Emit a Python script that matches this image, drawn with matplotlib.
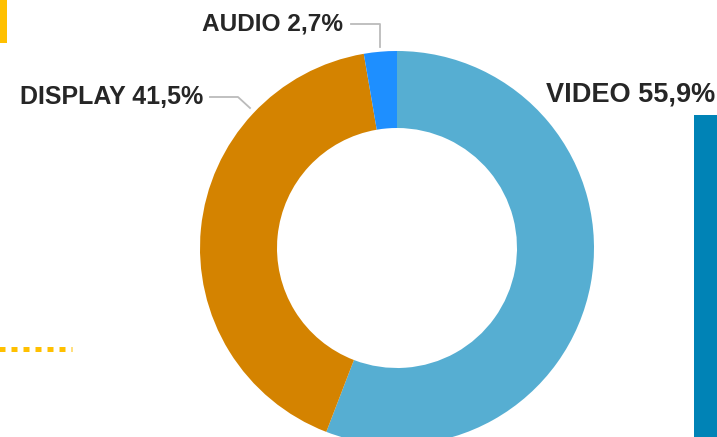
import matplotlib
matplotlib.use("Agg")
import matplotlib.pyplot as plt
from matplotlib.patches import Rectangle
from matplotlib.lines import Line2D

categories = ["VIDEO", "DISPLAY", "AUDIO"]
values = [55.9, 41.5, 2.7]
colors = ["#56AED2", "#D48300", "#1E8FFF"]
labels = ["VIDEO 55,9%", "DISPLAY 41,5%", "AUDIO 2,7%"]

W, H = 717, 437
fig = plt.figure(figsize=(W / 100, H / 100), dpi=100)
ax = fig.add_axes([0, 0, 1, 1])
ax.set_xlim(0, W)
ax.set_ylim(0, H)
ax.set_aspect("equal")
ax.axis("off")

cx, cy, r = 397, H - 248, 197
wedges, _ = ax.pie(values, colors=colors, startangle=90, counterclock=False,
                   center=(cx, cy), radius=r, frame=True,
                   wedgeprops=dict(width=77, linewidth=0))
ax.set_xlim(0, W)
ax.set_ylim(0, H)
ax.axis("off")

tcolor = "#262626"
font = dict(fontweight="bold", color=tcolor, family="Liberation Sans", va="center")

# VIDEO label
ax.text(546, H - 94.5, labels[0], ha="left", fontsize=19.5, **font)
# DISPLAY label + leader
ax.text(203, H - 97, labels[1], ha="right", fontsize=18, **font)
ax.add_line(Line2D([210, 238, 250], [H - 97, H - 97, H - 108], color="#BBBBBB", lw=1.3))
# AUDIO label + leader
ax.text(343, H - 24, labels[2], ha="right", fontsize=17.6, **font)
ax.add_line(Line2D([351, 380, 380], [H - 24, H - 24, H - 47], color="#BBBBBB", lw=1.3))

# decorative elements
ax.add_patch(Rectangle((0, H - 43), 7, 43, color="#FFC000", lw=0))
ax.add_patch(Rectangle((694, 0), 30, H - 115, color="#0083B6", lw=0))
dl = Line2D([-4, 72], [H - 349, H - 349], color="#FFC000", lw=3.6,
            solid_capstyle="butt", dash_capstyle="butt")
dl.set_dashes((1.2, 1.2))
ax.add_line(dl)

fig.savefig("out.png", dpi=100)
